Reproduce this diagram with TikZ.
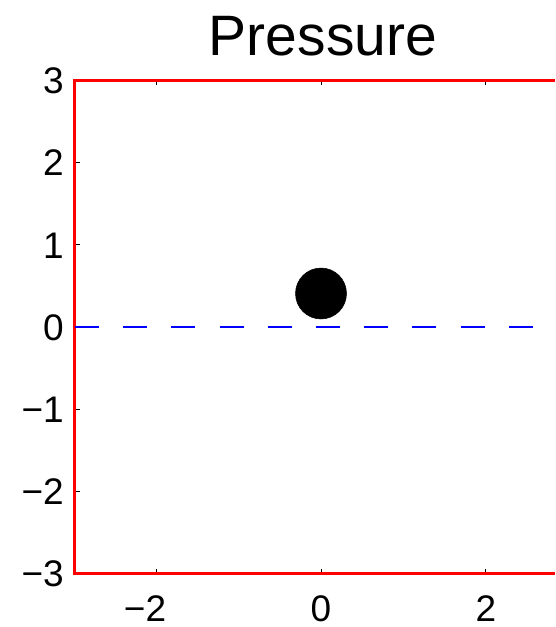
\documentclass[tikz,border=0pt]{standalone}
\usepackage{fontspec}
\setmainfont{Liberation Sans}
\definecolor{mred}{RGB}{255,0,0}
\definecolor{mblue}{RGB}{0,0,255}
\begin{document}
\begin{tikzpicture}[x=1pt,y=-1pt,
  ticklabel/.style={font=\fontsize{37}{40}\selectfont,inner sep=0pt,text depth=0pt},
  tickmark/.style={black,line width=1pt},
  axisred/.style={mred,line width=2.6pt},
  axisblack/.style={black,line width=1pt}]
\useasboundingbox[fill=white] (0,0) rectangle (555,627);
% title
\node[font=\fontsize{57}{60}\selectfont,inner sep=0pt,text depth=0pt,anchor=base] (title) at (323,55) {Pressure};
% ticks (inside)
\foreach \yv in {-3,...,3} {
  \draw[tickmark] (74.5,{327-82.2*\yv}) -- ++(5,0);
}
\foreach \xv in {-2,0,2} {
  \draw[tickmark] ({321+82.2*\xv},80.4) -- ++(0,5);
  \draw[tickmark] ({321+82.2*\xv},573.6) -- ++(0,-5);
}
% axes
\draw[axisblack] (74,79.6) -- (555,79.6);
\draw[axisblack] (73.6,80.4) -- (73.6,573.6);
\draw[axisblack] (74,574.4) -- (555,574.4);
\draw[axisred] (74.5,573.6) -- (74.5,80.4) -- (555,80.4);
\draw[axisred] (73.2,573.6) -- (555,573.6);
% dashed zero line
\draw[mblue,line width=1.6pt,dash pattern=on 24pt off 24.2pt] (75,327) -- (555,327);
% marker
\node[circle,fill=black,draw=black,line width=0.5pt,minimum size=51pt,inner sep=0pt] (dot) at (321,293.5) {};
% y tick labels
\node[ticklabel,anchor=base east] (y3) at (64,93.7) {3};
\node[ticklabel,anchor=base east] (y2) at (64,175.9) {2};
\node[ticklabel,anchor=base east] (y1) at (64,258.1) {1};
\node[ticklabel,anchor=base east] (y0) at (64,340.3) {0};
\node[ticklabel,anchor=base east] (ym1) at (64,422.5) {−1};
\node[ticklabel,anchor=base east] (ym2) at (64,504.7) {−2};
\node[ticklabel,anchor=base east] (ym3) at (64,586.9) {−3};
% x tick labels
\node[ticklabel,anchor=base] (xm2) at (145,621.5) {−2};
\node[ticklabel,anchor=base] (x0) at (321,621.5) {0};
\node[ticklabel,anchor=base] (x2) at (486,621.5) {2};
\end{tikzpicture}
\end{document}
